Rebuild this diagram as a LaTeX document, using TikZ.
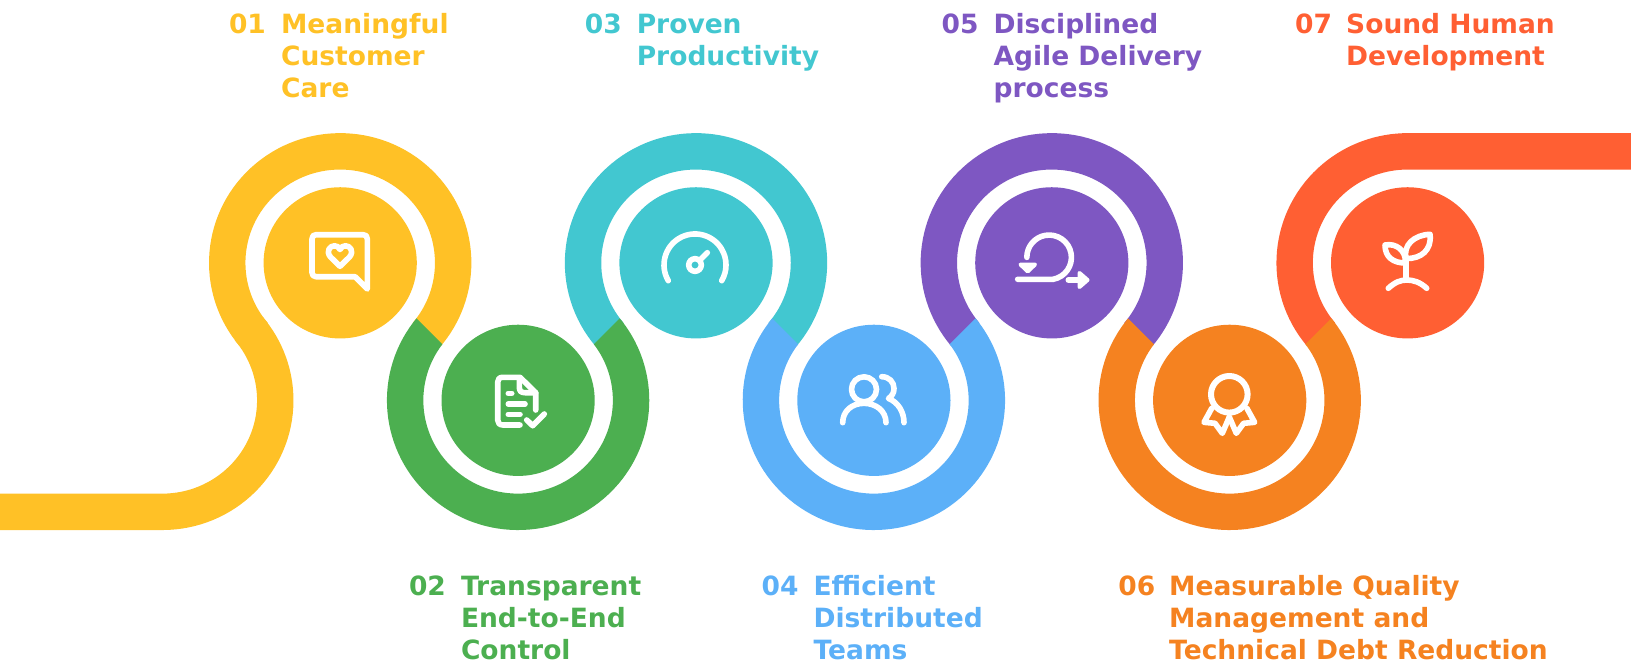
\documentclass[tikz,border=0pt]{standalone}
\usepackage{fontspec}
\usetikzlibrary{calc}
\setmainfont{DejaVu Sans}[BoldFont={DejaVu Sans Bold}]
\definecolor{cY}{HTML}{FFC126}
\definecolor{cG}{HTML}{4CAF50}
\definecolor{cT}{HTML}{42C7D0}
\definecolor{cB}{HTML}{5CB0F8}
\definecolor{cP}{HTML}{7E57C2}
\definecolor{cO}{HTML}{F58220}
\definecolor{cR}{HTML}{FF5F33}
\tikzset{
  ring/.style={line width=36.4bp,line cap=butt},
  disc/.style={circle,minimum size=153.2bp,inner sep=0pt,draw=none,transform shape},
  ico/.style={draw=white,line width=5.6bp,line cap=round,line join=round},
  lab/.style={anchor=north west,inner sep=0pt,align=left,font=\fontsize{26.5bp}{32.2bp}\selectfont\bfseries},
  num/.style={anchor=base west,inner sep=0pt,font=\fontsize{26.5bp}{32.2bp}\selectfont\bfseries},
}
\newcommand{\ST}{\rule{0pt}{25bp}}
\def\R{112.97bp}
\def\TY{266.3}
\def\BY{405.6}
% ring above the row (x centre, colour)
\newcommand{\topring}[2]{\draw[ring,#2] ($(#1,\TY)+(139.94:\R)$) arc[start angle=139.94,end angle=400.06,radius=\R];}
% ring below the row (x centre, colour), cut at 45 degrees where it meets its neighbours
\newcommand{\botring}[2]{%
  \begin{scope}
    \clip (#1-119,301) -- (#1-64,356) -- (#1+64,356) -- (#1+119,301) -- (#1+180,301) -- (#1+180,560) -- (#1-180,560) -- (#1-180,301) -- cycle;
    \begin{scope}[yscale=0.987]
      \draw[ring,#2] ($(#1,\BY)+(220.06:\R)$) arc[start angle=220.06,end angle=-40.06,radius=\R];
    \end{scope}
  \end{scope}}
\begin{document}
\begin{tikzpicture}[x=1bp,y=1bp,yscale=-1]
\useasboundingbox (0,0) rectangle (1631,662);
% ribbon
\begin{scope}[yscale=0.987]
  \draw[ring,cY] (0,\BY+112.97) -- (162.3,\BY+112.97) arc[start angle=90,end angle=-40,radius=\R];
  \topring{340.2}{cY}
  \topring{696}{cT}
  \topring{1051.8}{cP}
  \draw[ring,cR] ($(1407.6,\TY)+(139.94:\R)$) arc[start angle=139.94,end angle=270,radius=\R] -- (1631,\TY-112.97);
\end{scope}
\botring{518.1}{cG}
\botring{873.9}{cB}
\botring{1229.7}{cO}
% discs
\begin{scope}[yscale=0.987]
\node[disc,fill=cY] (n1) at (340.2,\TY) {};
\node[disc,fill=cG] (n2) at (518.1,\BY) {};
\node[disc,fill=cT] (n3) at (696,\TY) {};
\node[disc,fill=cB] (n4) at (873.9,\BY) {};
\node[disc,fill=cP] (n5) at (1051.8,\TY) {};
\node[disc,fill=cO] (n6) at (1229.7,\BY) {};
\node[disc,fill=cR] (n7) at (1407.6,\TY) {};
\end{scope}
% icon 1: chat
\draw[ico] (316,234.7) -- (363,234.7) .. controls (366,234.7) and (367.3,236) .. (367.3,239) -- (367.3,289) -- (355,276.7) -- (316,276.7) .. controls (313.5,276.7) and (312,275) .. (312,272.5) -- (312,239) .. controls (312,236) and (313.5,234.7) .. (316,234.7) -- cycle;
\draw[ico] (340,266.3) -- (330.5,257) .. controls (325.5,251) and (330,245.8) .. (334.5,245.8) .. controls (337,245.8) and (339,247) .. (340,249.5) .. controls (341,247) and (343,245.8) .. (345.5,245.8) .. controls (350,245.8) and (354.5,251) .. (349.5,257) -- cycle;
% icon 2: document
\draw[ico] (520,425) -- (503,425) .. controls (499.5,425) and (497.7,423) .. (497.7,420) -- (497.7,382) .. controls (497.7,379) and (499.5,377.3) .. (503,377.3) -- (520,377.3) -- (535.7,392.7) -- (535.7,410);
\draw[ico] (519.3,378) -- (519.3,387) .. controls (519.3,391) and (521,392.7) .. (525,392.7) -- (535.7,392.7);
\draw[ico] (508.3,393.3) -- (511.7,393.3);
\draw[ico] (508.3,404) -- (525,404);
\draw[ico] (508.3,414.3) -- (520,414.3);
\draw[ico] (526.7,420) -- (532.7,425.7) -- (544.3,414);
% icon 3: gauge
\draw[ico] (668.3,280.7) arc[start angle=149.5,end angle=390.5,radius=31bp];
\draw[ico] (695,265) circle[radius=6.3bp];
\draw[ico] (700,260) -- (707.3,252.7);
% icon 4: people
\draw[ico] (864,389.3) circle[radius=12.5bp];
\draw[ico] (842.7,422.7) .. controls (842.7,411) and (852,403.3) .. (864,403.3) .. controls (876,403.3) and (886,411) .. (886,422.7);
\draw[ico] (881.7,376.7) .. controls (889,376.7) and (894,382) .. (894,388.5) .. controls (894,393) and (892,396) .. (888.5,398.5) .. controls (898,402) and (904,412) .. (904,422.7);
% icon 5: loop
\draw[ico] (1017.7,279.3) -- (1053,279.3) arc[start angle=80,end angle=-180,radius=22.3bp];
\draw[ico,line width=4bp,fill=white] (1020.5,264.5) -- (1035,264.5) -- (1027.7,271.5) -- cycle;
\draw[ico] (1068.3,280) -- (1080,280);
\draw[ico,line width=4bp,fill=white] (1079.5,273) -- (1087.5,280) -- (1079.5,287) -- cycle;
% icon 6: award
\draw[ico,line width=6bp] (1229.3,394.3) circle[radius=18.3bp];
\draw[ico] (1211.7,408.3) -- (1204,422.3) -- (1215,423.3) -- (1222.3,433.3) -- (1229.3,417);
\draw[ico] (1246.9,408.3) -- (1254.6,422.3) -- (1243.6,423.3) -- (1236.3,433.3) -- (1229.3,417);
% icon 7: sprout
\draw[ico] (1405.7,260) -- (1405.7,280);
\draw[ico] (1388.3,288.3) .. controls (1395,282) and (1401,280) .. (1406.7,280) .. controls (1413,280) and (1420,282) .. (1426.7,288.3);
\draw[ico] (1385,245) .. controls (1396,243) and (1406,250) .. (1405.5,263) .. controls (1393,263) and (1385,257) .. (1385,245) -- cycle;
\draw[ico] (1430,234.3) .. controls (1414,235) and (1403,245) .. (1406,258.5) .. controls (1421,259) and (1432,250) .. (1430,234.3) -- cycle;
% labels
\node[num,cY] (t1) at (228.8,33.3) {01};
\node[lab,cY] (l1) at (280.9,8.3) {\ST Meaningful\\Customer\\Care};
\node[num,cT] (t3) at (584.6,33.3) {03};
\node[lab,cT] (l3) at (636.6,8.3) {\ST Proven\\Productivity};
\node[num,cP] (t5) at (941.4,33.3) {05};
\node[lab,cP] (l5) at (993.4,8.3) {\ST Disciplined\\Agile Delivery\\process};
\node[num,cR] (t7) at (1295,33.3) {07};
\node[lab,cR] (l7) at (1346,8.3) {\ST Sound Human\\Development};
\node[num,cG] (t2) at (408.8,595) {02};
\node[lab,cG] (l2) at (460.8,570) {\ST Transparent\\End-to-End\\Control};
\node[num,cB] (t4) at (761.4,595) {04};
\node[lab,cB] (l4) at (813.4,570) {\ST Efficient\\Distributed\\Teams};
\node[num,cO] (t6) at (1118.2,595) {06};
\node[lab,cO] (l6) at (1169,570) {\ST Measurable Quality\\Management and\\Technical Debt Reduction};
\end{tikzpicture}
\end{document}
